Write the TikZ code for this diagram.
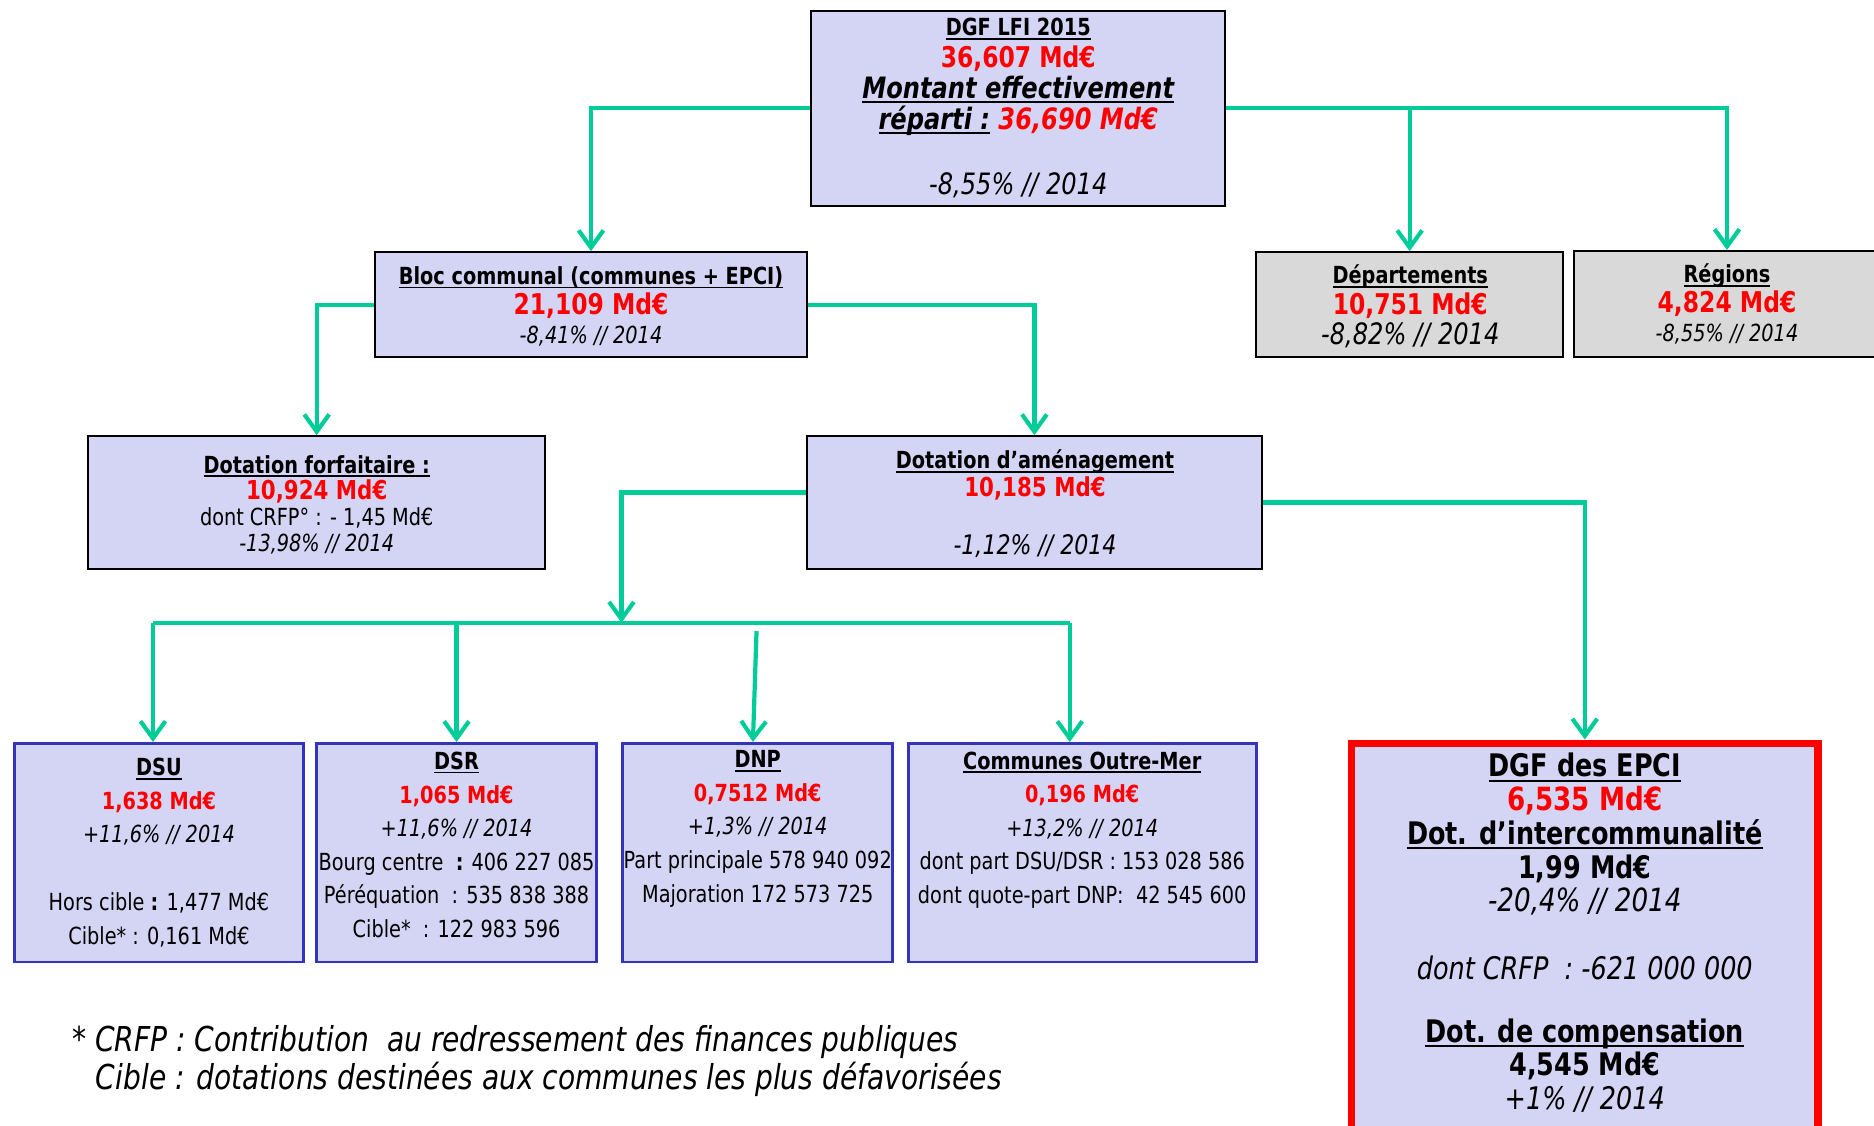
\documentclass[tikz,border=0pt]{standalone}
\usepackage{fontspec}
\setmainfont{DejaVu Sans}[FakeStretch=0.82]
\usepackage{tikz}
\usetikzlibrary{arrows.meta}
\usepackage{xcolor}

\definecolor{vert}{RGB}{0,204,153}
\definecolor{lavande}{RGB}{212,212,244}
\definecolor{gris}{RGB}{217,217,217}
\definecolor{bleu}{RGB}{51,51,187}
\definecolor{rouge}{RGB}{255,0,0}

\newsavebox{\ulbox}
\newcommand{\uln}[1]{\sbox{\ulbox}{#1}\rlap{\rule[-0.16em]{\wd\ulbox}{0.07em}}\usebox{\ulbox}}
\newcommand{\fs}[1]{\fontsize{#1}{#1}\selectfont}
\newcommand{\md}[1]{\textbf{\textcolor{rouge}{#1}}}
\setlength{\lineskiplimit}{-20pt}

\begin{document}
\begin{tikzpicture}[x=0.025cm, y=-0.025cm,
	box/.style={draw, line width=1.2pt, fill=lavande, inner sep=0pt},
	graybox/.style={box, fill=gris},
	bluebox/.style={box, draw=bleu, line width=1.6pt},
	redbox/.style={box, draw=rouge, line width=4.5pt},
	txt/.style={align=center, inner sep=0pt},
	link/.style={draw=vert, line width=2.5pt},
	conn/.style={link, -{Straight Barb[length=3.6mm,width=5.2mm]}}]

		\useasboundingbox (0,0) rectangle (1568,942);

		% DGF LFI 2015
		\node[box, minimum width=8.65cm, minimum height=4.075cm] (top) at (852,90.5) {};
		\node[txt, font=\fontsize{14}{18.6}\selectfont] (toptxt) at (852,90.5) {%
			\textbf{\uln{DGF LFI 2015}}\\
			{\fs{17}\md{36,607 Md€}}\\
			{\fs{17.5}\textbf{\textit{\uln{Montant effectivement}}}}\\
			{\fs{17.5}\textbf{\textit{\uln{réparti :} \textcolor{rouge}{36,690 Md€}}}}\\[19.9pt]
			{\fs{17.5}\textit{-8,55\% // 2014}}};

		% Bloc communal, départements, régions
		\node[box, minimum width=9.025cm, minimum height=2.2cm] (bloc) at (494.5,255) {};
		\node[txt, font=\fontsize{14}{17.6}\selectfont] (bloctxt) at (494.5,256.5) {%
			\textbf{\uln{Bloc communal (communes + EPCI)}}\\
			{\fs{17}\md{21,109 Md€}}\\
			\textit{-8,41\% // 2014}};

		\node[graybox, minimum width=6.425cm, minimum height=2.2cm] (dep) at (1179.5,255) {};
		\node[txt, font=\fontsize{14}{18.1}\selectfont] (deptxt) at (1180,256.5) {%
			\textbf{\uln{Départements}}\\
			{\fs{17}\md{10,751 Md€}}\\
			{\fs{17.5}\textit{-8,82\% // 2014}}};

		\node[graybox, minimum width=6.4cm, minimum height=2.225cm] (reg) at (1445,254.5) {};
		\node[txt, font=\fontsize{14}{17.4}\selectfont] (regtxt) at (1445,254.5) {%
			\textbf{\uln{Régions}}\\
			{\fs{17}\md{4,824 Md€}}\\
			\textit{-8,55\% // 2014}};

		% Dotation forfaitaire et dotation d'aménagement
		\node[box, minimum width=9.55cm, minimum height=2.775cm] (forf) at (265,420.5) {};
		\node[txt, font=\fontsize{14}{15.6}\selectfont] (forftxt) at (265,422.5) {%
			\textbf{\uln{Dotation forfaitaire :}}\\
			{\fs{15.5}\md{10,924 Md€}}\\
			dont CRFP° : - 1,45 Md€\\
			\textit{-13,98\% // 2014}};

		\node[box, minimum width=9.525cm, minimum height=2.775cm] (amen) at (865.5,420.5) {};
		\node[txt, font=\fontsize{14}{16.7}\selectfont] (amentxt) at (866,421.5) {%
			\textbf{\uln{Dotation d’aménagement}}\\
			{\fs{15.5}\md{10,185 Md€}}\\[17.4pt]
			{\fs{16}\textit{-1,12\% // 2014}}};

		% Dotations de péréquation
		\node[bluebox, minimum width=6.05cm, minimum height=4.575cm] (dsu) at (133,713.5) {};
		\node[txt, font=\fontsize{14}{19.9}\selectfont] (dsutxt) at (133,713.5) {%
			\textbf{\uln{DSU}}\\
			\md{1,638 Md€}\\
			\textit{+11,6\% // 2014}\\[20.6pt]
			Hors cible \textbf{:} 1,477 Md€\\
			Cible* : 0,161 Md€};

		\node[bluebox, minimum width=5.85cm, minimum height=4.575cm] (dsr) at (382,713.5) {};
		\node[txt, font=\fontsize{14}{20}\selectfont] (dsrtxt) at (382,707) {%
			\textbf{\uln{DSR}}\\
			\md{1,065 Md€}\\
			\textit{+11,6\% // 2014}\\
			Bourg centre\ \ \textbf{:} 406 227 085\\
			Péréquation\ \ : 535 838 388\\
			Cible*\ \ : 122 983 596};

		\node[bluebox, minimum width=5.65cm, minimum height=4.575cm] (dnp) at (634,713.5) {};
		\node[txt, font=\fontsize{14}{20}\selectfont] (dnptxt) at (634,693.5) {%
			\textbf{\uln{DNP}}\\
			\md{0,7512 Md€}\\
			\textit{+1,3\% // 2014}\\
			Part principale 578 940 092\\
			Majoration 172 573 725};

		\node[bluebox, minimum width=7.275cm, minimum height=4.575cm] (com) at (905.5,713.5) {};
		\node[txt, font=\fontsize{14}{20}\selectfont] (comtxt) at (905.5,694.5) {%
			\textbf{\uln{Communes Outre-Mer}}\\
			\md{0,196 Md€}\\
			\textit{+13,2\% // 2014}\\
			dont part DSU/DSR : 153 028 586\\
			dont quote-part DNP:\ \ 42 545 600};

		% DGF des EPCI
		\node[redbox, minimum width=9.75cm, minimum height=8.45cm] (epci) at (1326,791) {};
		\node[txt, font=\fontsize{18.5}{20.1}\selectfont] (epcitxt) at (1326,780.5) {%
			\textbf{\uln{DGF des EPCI}}\\
			{\fs{19}\md{6,535 Md€}}\\
			\textbf{\uln{Dot. d’intercommunalité}}\\
			\textbf{1,99 Md€}\\
			{\fs{19}\textit{-20,4\% // 2014}}\\[20.1pt]
			\textit{dont CRFP\ \ : -621 000 000}\\[17.1pt]
			\textbf{\uln{Dot. de compensation}}\\
			\textbf{4,545 Md€}\\
			\textit{+1\% // 2014}};

		% Flèches
		\draw[conn] (top.west) -| (bloc.north);
		\draw[conn] (top.east) -| (dep.north);
		\draw[conn] (top.east) -| (reg.north);
		\draw[conn] (bloc.west) -| (forf.north);
		\draw[conn] (bloc.east) -| (amen.north);
		\draw[conn] (amen.east) -| (epci.north);

		\coordinate (bus) at (520,521);
		\coordinate (dnptop) at (633,528);
		\draw[conn] ([yshift=2.1mm]amen.west) -| (bus);
		\draw[link] ([xshift=-1.25mm]dsu.north |- bus) -- ([xshift=-2.6mm]com.north |- bus);
		\draw[conn] ([xshift=-1.25mm]dsu.north |- bus) -- ([xshift=-1.25mm]dsu.north);
		\draw[conn] (dsr.north |- bus) -- (dsr.north);
		\draw[conn] (dnptop) -- ([xshift=-1mm]dnp.north);
		\draw[conn] ([xshift=-2.6mm]com.north |- bus) -- ([xshift=-2.6mm]com.north);

		% Notes
		\node[align=left, anchor=west, inner sep=0pt, font=\fontsize{20.4}{22.8}\selectfont\itshape] (note) at (60,888) {%
			* CRFP : Contribution\ \ au redressement des finances publiques\\
			\hspace*{5mm}Cible : dotations destinées aux communes les plus défavorisées};

	\end{tikzpicture}
\end{document}
